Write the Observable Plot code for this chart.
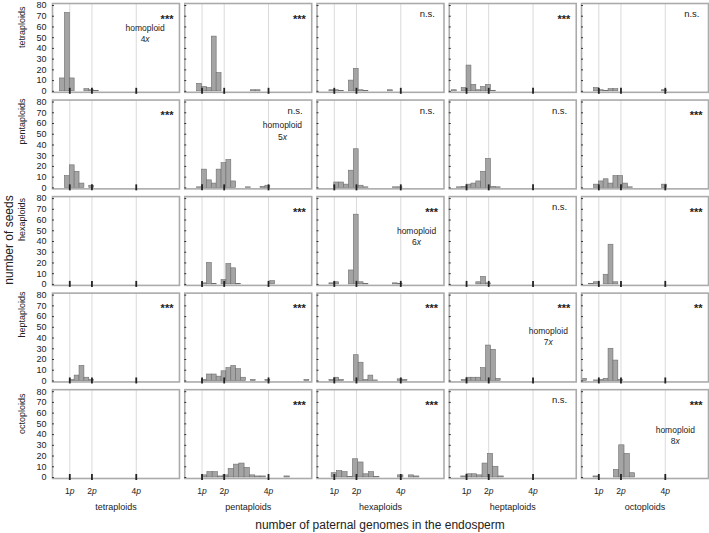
<!DOCTYPE html>
<html><head><meta charset="utf-8">
<script src="https://cdn.jsdelivr.net/npm/d3@7"></script>
<script src="https://cdn.jsdelivr.net/npm/@observablehq/plot@0.6"></script>
<style>
body{margin:0;background:#fff;}
#chart{position:relative;width:709px;height:533px;}
</style></head><body><div id="chart"></div>
<script>
// Maternal (rows) and paternal (columns) cytotypes
const cytotypes = ["tetraploids","pentaploids","hexaploids","heptaploids","octoploids"];
const pTicks = [1, 2, 4];
const pTickLabels = ["1p", "2p", "4p"];
const yTicks = [0, 10, 20, 30, 40, 50, 60, 70, 80];
// histogram bin width (paternal genomes) for each maternal row
const binWidths = [0.22, 0.22, 0.22, 0.22, 0.24];

// [bin start, number of seeds] — row = mother, column = father
const tetra_tetra = [[0.56,12],[0.78,73],[1.0,12],[1.66,2],[1.88,1],[2.10,0.5]];
const tetra_penta = [[0.78,7],[1.0,4],[1.22,3],[1.44,51],[1.66,17],[3.20,1],[3.42,1]];
const tetra_hexa  = [[0.78,1],[1.0,1],[1.22,0.5],[1.66,10],[1.88,21],[2.10,1],[2.32,0.5],[3.42,1]];
const tetra_hepta = [[0.34,1],[0.78,3],[1.0,24],[1.22,6],[1.44,1],[1.66,4],[1.88,6],[2.10,0.5]];
const tetra_octo  = [[0.78,3],[1.0,1],[1.22,0.5],[1.44,2],[1.66,2],[3.86,1]];

const penta_tetra = [[0.78,11],[1.0,21],[1.22,15],[1.44,4],[1.88,2]];
const penta_penta = [[0.78,0.5],[1.0,17],[1.22,7],[1.44,4],[1.66,17],[1.88,23],[2.10,26],[2.32,6],[2.98,0.5],[3.64,1],[3.86,2]];
const penta_hexa  = [[1.0,5],[1.22,5],[1.44,3],[1.66,16],[1.88,36],[2.10,2],[2.32,0.5],[3.64,0.5],[3.86,0.5]];
const penta_hepta = [[0.56,0.5],[0.78,1],[1.0,3],[1.22,4],[1.44,6],[1.66,15],[1.88,27],[2.10,1],[2.32,0.5]];
const penta_octo  = [[0.78,3],[1.0,6],[1.22,8],[1.44,4],[1.66,11],[1.88,11],[2.10,4],[2.32,0.5],[3.86,3]];

const hexa_tetra = [];
const hexa_penta = [[1.0,1],[1.22,20],[1.44,0.5],[1.88,4],[2.10,19],[2.32,15],[2.54,0.5],[4.08,3]];
const hexa_hexa  = [[0.78,1],[1.0,2],[1.66,13],[1.88,65],[2.10,2],[2.32,0.5],[3.64,1],[3.86,0.5]];
const hexa_hepta = [[1.44,2],[1.66,7],[1.88,1]];
const hexa_octo  = [[0.56,0.5],[0.78,2],[1.22,9],[1.44,37],[1.66,2]];

const hepta_tetra = [[1.0,1],[1.22,5],[1.44,14],[1.66,3],[1.88,1]];
const hepta_penta = [[1.0,1],[1.22,6],[1.44,6],[1.66,4],[1.88,9],[2.10,12],[2.32,14],[2.54,11],[2.76,3],[3.20,1],[3.86,1],[5.62,1]];
const hepta_hexa  = [[0.78,1],[1.0,3],[1.22,1],[1.88,24],[2.10,17],[2.32,1],[2.54,5],[2.76,0.5],[3.86,1.5],[4.08,1]];
const hepta_hepta = [[0.78,1],[1.0,3],[1.22,3],[1.44,3],[1.66,12],[1.88,33],[2.10,29],[2.32,2]];
const hepta_octo  = [[0.24,2],[0.78,0.5],[1.0,1],[1.22,2],[1.44,30],[1.66,19],[1.88,1]];

const octo_tetra = [];
const octo_penta = [[1.0,2],[1.24,5],[1.48,5],[1.72,1],[1.96,2],[2.20,8],[2.44,12],[2.68,13],[2.92,9],[3.16,2],[3.40,1],[3.64,1],[4.72,1]];
const octo_hexa  = [[0.88,4],[1.12,6],[1.36,5],[1.60,0.5],[1.84,17],[2.08,14],[2.32,3],[2.56,5],[2.80,0.5],[3.88,2],[4.36,2],[4.60,1]];
const octo_hepta = [[0.76,1],[1.0,3],[1.24,3],[1.48,2],[1.72,13],[1.96,22],[2.20,10],[2.44,1]];
const octo_octo  = [[0.76,1],[1.68,7],[1.92,30],[2.16,22],[2.40,4]];

// significance labels per panel (row = mother)
const sigTetra = ["***","***","n.s.","***","n.s."];
const sigPenta = ["***","n.s.","n.s.","n.s.","***"];
const sigHexa  = ["","***","***","n.s.","***"];
const sigHepta = ["***","***","***","***","**"];
const sigOcto  = ["","***","***","n.s.","***"];

// homoploid annotations on the diagonal
const homoploidText = ["homoploid\n4x","homoploid\n5x","homoploid\n6x","homoploid\n7x","homoploid\n8x"];
const homoploidX = [4.40, 4.63, 4.71, 4.69, 4.45];
const homoploidY = [54.5, 53.5, 44.9, 42.2, 40.0];

// ---- build tables ----
const panelRows = [
  [tetra_tetra, tetra_penta, tetra_hexa, tetra_hepta, tetra_octo],
  [penta_tetra, penta_penta, penta_hexa, penta_hepta, penta_octo],
  [hexa_tetra, hexa_penta, hexa_hexa, hexa_hepta, hexa_octo],
  [hepta_tetra, hepta_penta, hepta_hexa, hepta_hepta, hepta_octo],
  [octo_tetra, octo_penta, octo_hexa, octo_hepta, octo_octo]
];
const sigRows = [sigTetra, sigPenta, sigHexa, sigHepta, sigOcto];

const bars = [];
panelRows.forEach((row, i) => row.forEach((bins, j) => bins.forEach(([s, n]) =>
  bars.push({mother: cytotypes[i], father: cytotypes[j], x1: s, x2: s + binWidths[i], n}))));

const sig = [];
sigRows.forEach((row, i) => row.forEach((s, j) => { if (s) sig.push({mother: cytotypes[i], father: cytotypes[j], s}); }));

const homo = cytotypes.map((c, i) => ({mother: c, father: c, x: homoploidX[i], y: homoploidY[i], t: homoploidText[i]}));

const yLab = [];
cytotypes.forEach(c => yTicks.forEach(v => yLab.push({mother: c, v})));
const xLab = [];
cytotypes.forEach(c => pTicks.forEach((p, k) => xLab.push({father: c, p, t: pTickLabels[k]})));

const first = cytotypes[0], last = cytotypes[cytotypes.length - 1];
const ink = "#222";

const svg = Plot.plot({
  width: 709, height: 533,
  marginLeft: 52, marginRight: 1, marginTop: 3, marginBottom: 55,
  style: {fontFamily: "'Liberation Sans', Arial, sans-serif", background: "#fff", color: ink, overflow: "visible"},
  fx: {domain: cytotypes, paddingInner: 0.04, paddingOuter: 0, round: false, axis: null},
  fy: {domain: cytotypes, paddingInner: 0.08, paddingOuter: 0, round: false, axis: null},
  x: {domain: [0.22, 5.95], axis: null},
  y: {domain: [0, 80], axis: null, insetTop: 2, insetBottom: 1},
  marks: [
    Plot.ruleX(pTicks, {x: d => d, stroke: "#dadada", strokeWidth: 1}),
    Plot.rect(bars, {x1: "x1", x2: "x2", y1: () => 0, y2: "n", fx: "father", fy: "mother",
      fill: "#a4a4a4", stroke: "#6e6e6e", strokeWidth: 0.6}),
    Plot.frame({stroke: "#ababab", strokeWidth: 1.6}),
    Plot.ruleY(yTicks, {y: d => d, x1: () => 0.22, x2: () => 0.31, stroke: "#333", strokeWidth: 1}),
    Plot.ruleX(pTicks, {x: d => d, y1: () => -2.8, y2: () => 2.8, stroke: "#222", strokeWidth: 1.8}),
    // y tick labels (first column)
    Plot.text(yLab, {fy: "mother", fx: () => first, y: "v", text: d => String(d.v),
      frameAnchor: "left", textAnchor: "end", dx: -6, fontSize: 9, fill: ink}),
    // row labels
    Plot.text(cytotypes, {fy: d => d, fx: () => first, text: d => d, frameAnchor: "left",
      rotate: -90, dx: -30, fontSize: 9, fill: ink}),
    // x tick labels (bottom row)
    Plot.text(xLab, {fx: "father", fy: () => last, x: "p", text: "t", frameAnchor: "bottom",
      lineAnchor: "middle", dy: 13, fontSize: 8.5, fill: ink}),
    // column labels
    Plot.text(cytotypes, {fx: d => d, fy: () => last, text: d => d, frameAnchor: "bottom",
      lineAnchor: "middle", dy: 29, fontSize: 9, fill: ink}),
    // significance
    Plot.text(sig.filter(d => d.s.startsWith("*")), {fx: "father", fy: "mother", text: "s",
      frameAnchor: "top-right", textAnchor: "end", lineAnchor: "bottom", dx: -6, dy: 19,
      fontSize: 11, fontWeight: "bold", fill: ink}),
    Plot.text(sig.filter(d => !d.s.startsWith("*")), {fx: "father", fy: "mother", text: "s",
      frameAnchor: "top-right", textAnchor: "end", lineAnchor: "bottom", dx: -9, dy: 13.5,
      fontSize: 9.5, fill: ink}),
    // homoploid annotations
    Plot.text(homo, {fx: "father", fy: "mother", x: "x", y: "y", text: "t",
      lineAnchor: "middle", lineHeight: 1.3, fontSize: 8.5, fill: ink})
  ]
});

const sel = d3.select(svg);
// italic p / x in labels
sel.selectAll("text, tspan").each(function() {
  if (this.childNodes.length === 1 && this.firstChild.nodeType === 3) {
    const m = /^(\d)([px])$/.exec(this.textContent);
    if (m) {
      this.textContent = m[1];
      d3.select(this).append("tspan").attr("font-style", "italic").text(m[2]);
    }
  }
});
// overall axis titles
sel.append("text")
  .attr("transform", "translate(9,240) rotate(-90)")
  .attr("text-anchor", "middle").attr("dominant-baseline", "central")
  .attr("font-size", 12).attr("fill", ink)
  .text("number of seeds");
sel.append("text")
  .attr("x", 380).attr("y", 525)
  .attr("text-anchor", "middle").attr("dominant-baseline", "central")
  .attr("font-size", 12).attr("fill", ink)
  .text("number of paternal genomes in the endosperm");

document.getElementById("chart").appendChild(svg);
</script>
</body></html>
